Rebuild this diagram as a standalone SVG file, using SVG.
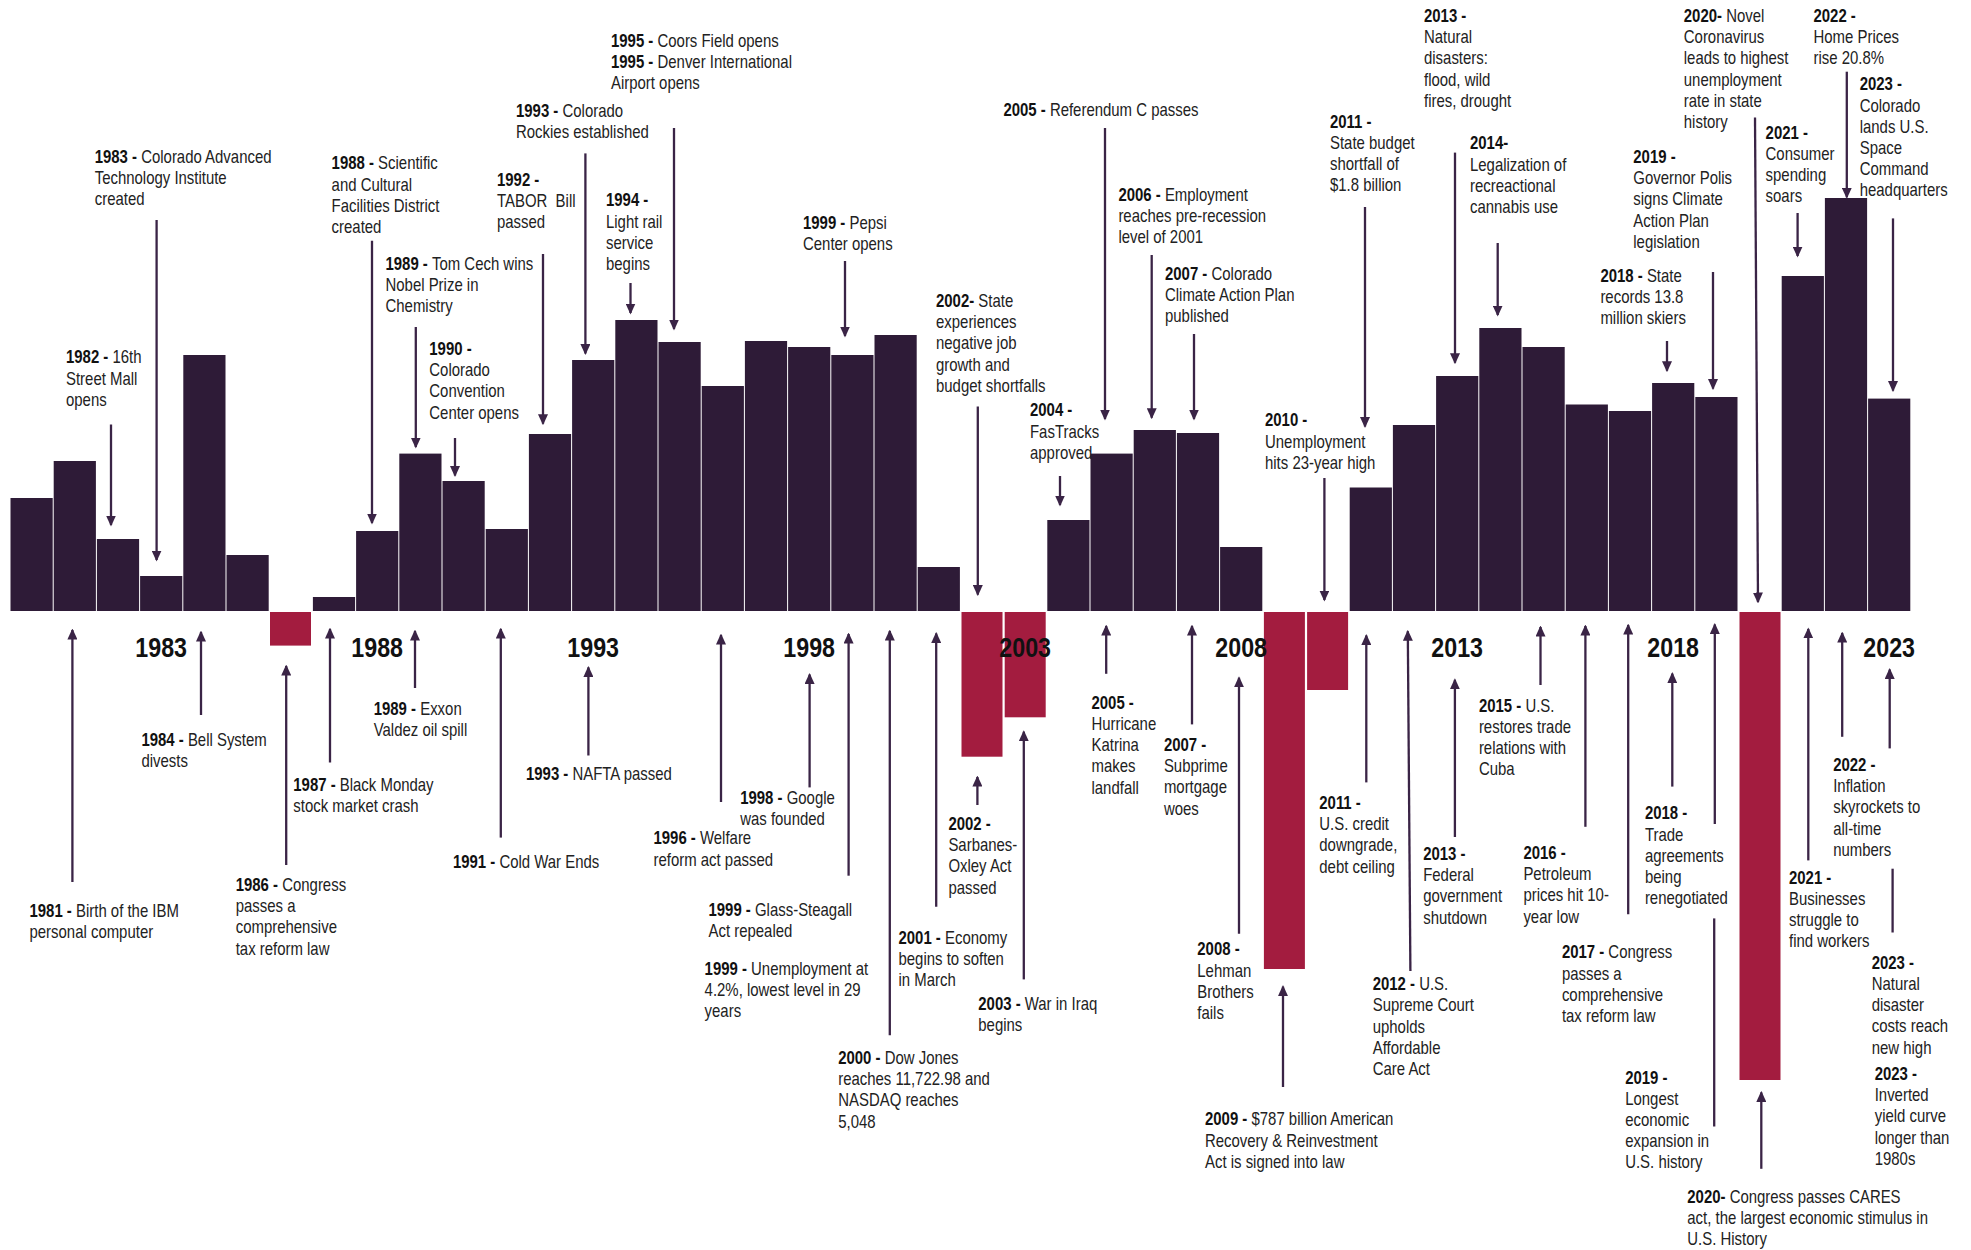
<svg xmlns="http://www.w3.org/2000/svg" width="1971" height="1250" viewBox="0 0 1971 1250">
<style>
.bar{fill:#2e1b37}
.neg{fill:#a31c3f}
.t{font-family:"Liberation Sans",Arial,sans-serif;font-size:18px;fill:#222}
.b{font-weight:bold;fill:#111}
.yr{font-family:"Liberation Sans",Arial,sans-serif;font-size:28px;font-weight:bold;text-anchor:middle;fill:#111}
.arr{stroke:#3a2446;stroke-width:2.3;fill:none;marker-end:url(#ah)}
.seg{stroke:#3a2446;stroke-width:2.3;fill:none}
</style>
<defs>
<marker id="ah" viewBox="0 0 11 10" refX="9.5" refY="5" markerWidth="11" markerHeight="10" markerUnits="userSpaceOnUse" orient="auto">
<path d="M0,0 L11,5 L0,10 z" fill="#3a2446"/>
</marker>
</defs>
<rect width="1971" height="1250" fill="#fff"/>
<g id="bars">
<rect class="bar" x="10.5" y="498" width="42.2" height="113"/>
<rect class="bar" x="53.7" y="461" width="42.2" height="150"/>
<rect class="bar" x="96.9" y="539" width="42.2" height="72"/>
<rect class="bar" x="140.1" y="576" width="42.2" height="35"/>
<rect class="bar" x="183.3" y="355" width="42.2" height="256"/>
<rect class="bar" x="226.5" y="555" width="42.2" height="56"/>
<rect class="neg" x="270" y="612" width="41" height="33.6"/>
<rect class="bar" x="312.9" y="597" width="42.2" height="14"/>
<rect class="bar" x="356.1" y="531" width="42.2" height="80"/>
<rect class="bar" x="399.3" y="453.6" width="42.2" height="157.4"/>
<rect class="bar" x="442.5" y="481" width="42.2" height="130"/>
<rect class="bar" x="485.7" y="529" width="42.2" height="82"/>
<rect class="bar" x="528.9" y="434" width="42.2" height="177"/>
<rect class="bar" x="572.1" y="360" width="42.2" height="251"/>
<rect class="bar" x="615.3" y="320" width="42.2" height="291"/>
<rect class="bar" x="658.5" y="342" width="42.2" height="269"/>
<rect class="bar" x="701.7" y="386" width="42.2" height="225"/>
<rect class="bar" x="744.9" y="341" width="42.2" height="270"/>
<rect class="bar" x="788.1" y="347" width="42.2" height="264"/>
<rect class="bar" x="831.3" y="355" width="42.2" height="256"/>
<rect class="bar" x="874.5" y="335" width="42.2" height="276"/>
<rect class="bar" x="917.7" y="567" width="42.2" height="44"/>
<rect class="neg" x="961.5" y="612" width="41" height="144.7"/>
<rect class="neg" x="1004.7" y="612" width="41" height="105.3"/>
<rect class="bar" x="1047.3" y="520" width="42.2" height="91"/>
<rect class="bar" x="1090.5" y="453.6" width="42.2" height="157.4"/>
<rect class="bar" x="1133.7" y="430" width="42.2" height="181"/>
<rect class="bar" x="1176.9" y="433" width="42.2" height="178"/>
<rect class="bar" x="1220.1" y="547" width="42.2" height="64"/>
<rect class="neg" x="1263.9" y="612" width="41" height="357"/>
<rect class="neg" x="1307.1" y="612" width="41" height="78"/>
<rect class="bar" x="1349.7" y="487.5" width="42.2" height="123.5"/>
<rect class="bar" x="1392.9" y="425" width="42.2" height="186"/>
<rect class="bar" x="1436.1" y="376" width="42.2" height="235"/>
<rect class="bar" x="1479.3" y="328" width="42.2" height="283"/>
<rect class="bar" x="1522.5" y="347" width="42.2" height="264"/>
<rect class="bar" x="1565.7" y="404.5" width="42.2" height="206.5"/>
<rect class="bar" x="1608.9" y="411" width="42.2" height="200"/>
<rect class="bar" x="1652.1" y="383" width="42.2" height="228"/>
<rect class="bar" x="1695.3" y="397" width="42.2" height="214"/>
<rect class="neg" x="1739.5" y="612" width="41" height="468"/>
<rect class="bar" x="1781.7" y="276" width="42.2" height="335"/>
<rect class="bar" x="1824.9" y="198" width="42.2" height="413"/>
<rect class="bar" x="1868.1" y="398.6" width="42.2" height="212.4"/>
</g>
<g id="year-axis">
<text class="yr" transform="matrix(0.83 0 0 1 27.4 0)" x="161.2" y="657.5">1983</text>
<text class="yr" transform="matrix(0.83 0 0 1 64.12 0)" x="377.2" y="657.5">1988</text>
<text class="yr" transform="matrix(0.83 0 0 1 100.84 0)" x="593.2" y="657.5">1993</text>
<text class="yr" transform="matrix(0.83 0 0 1 137.56 0)" x="809.2" y="657.5">1998</text>
<text class="yr" transform="matrix(0.83 0 0 1 174.28 0)" x="1025.2" y="657.5">2003</text>
<text class="yr" transform="matrix(0.83 0 0 1 211 0)" x="1241.2" y="657.5">2008</text>
<text class="yr" transform="matrix(0.83 0 0 1 247.72 0)" x="1457.2" y="657.5">2013</text>
<text class="yr" transform="matrix(0.83 0 0 1 284.44 0)" x="1673.2" y="657.5">2018</text>
<text class="yr" transform="matrix(0.83 0 0 1 321.16 0)" x="1889.2" y="657.5">2023</text>
</g>
<g id="connectors">
<line class="arr" x1="156.6" y1="220" x2="156.6" y2="560"/>
<line class="arr" x1="111" y1="424.5" x2="111" y2="525"/>
<line class="arr" x1="372" y1="240.7" x2="372" y2="523"/>
<line class="arr" x1="415.8" y1="327" x2="415.8" y2="447"/>
<line class="arr" x1="455" y1="438" x2="455" y2="475.5"/>
<line class="arr" x1="543" y1="254" x2="543" y2="423.7"/>
<line class="arr" x1="585.4" y1="153.4" x2="585.4" y2="353.5"/>
<line class="arr" x1="630.5" y1="283" x2="630.5" y2="313"/>
<line class="arr" x1="674" y1="128" x2="674" y2="329"/>
<line class="arr" x1="845" y1="261" x2="845" y2="336"/>
<line class="arr" x1="977.8" y1="406.5" x2="977.8" y2="594.6"/>
<line class="arr" x1="1105" y1="128" x2="1105" y2="419"/>
<line class="arr" x1="1151.7" y1="255" x2="1151.7" y2="417.7"/>
<line class="arr" x1="1194" y1="334" x2="1194" y2="419"/>
<line class="arr" x1="1060" y1="476" x2="1060" y2="505"/>
<line class="arr" x1="1324.4" y1="478" x2="1324.4" y2="600"/>
<line class="arr" x1="1365" y1="207" x2="1365" y2="426.5"/>
<line class="arr" x1="1455" y1="152.6" x2="1455" y2="362.7"/>
<line class="arr" x1="1497.7" y1="243" x2="1497.7" y2="315"/>
<line class="arr" x1="1713" y1="272" x2="1713" y2="388.6"/>
<line class="arr" x1="1667" y1="341" x2="1667" y2="370.7"/>
<line class="arr" x1="1755" y1="117.6" x2="1758" y2="602"/>
<line class="arr" x1="1797.6" y1="213" x2="1797.6" y2="256"/>
<line class="arr" x1="1846.8" y1="71.7" x2="1846.8" y2="197.3"/>
<line class="arr" x1="1893" y1="218.4" x2="1893" y2="390.6"/>
<line class="arr" x1="72.4" y1="882" x2="72.4" y2="630"/>
<line class="arr" x1="201" y1="715" x2="201" y2="632"/>
<line class="arr" x1="286.2" y1="865" x2="286.2" y2="666"/>
<line class="arr" x1="330" y1="762.5" x2="330" y2="629"/>
<line class="arr" x1="415" y1="688" x2="415" y2="631"/>
<line class="arr" x1="500.8" y1="837.6" x2="500.8" y2="629"/>
<line class="arr" x1="588.4" y1="755.5" x2="588.4" y2="667.4"/>
<line class="arr" x1="721" y1="802" x2="721" y2="635"/>
<line class="arr" x1="809.6" y1="787.4" x2="809.6" y2="674.5"/>
<line class="arr" x1="848.6" y1="875.7" x2="848.6" y2="634"/>
<line class="arr" x1="889.8" y1="1035.3" x2="889.8" y2="631"/>
<line class="arr" x1="936.2" y1="906.8" x2="936.2" y2="633.4"/>
<line class="arr" x1="977.4" y1="805" x2="977.4" y2="777"/>
<line class="arr" x1="1023.8" y1="979.4" x2="1023.8" y2="731.7"/>
<line class="arr" x1="1106.2" y1="673.8" x2="1106.2" y2="626"/>
<line class="arr" x1="1192" y1="724.4" x2="1192" y2="626"/>
<line class="arr" x1="1239" y1="933.7" x2="1239" y2="677.8"/>
<line class="arr" x1="1283" y1="1087" x2="1283" y2="986.6"/>
<line class="arr" x1="1366.3" y1="782.4" x2="1366.3" y2="635.5"/>
<line class="arr" x1="1410.4" y1="971" x2="1407.8" y2="631.3"/>
<line class="arr" x1="1454.9" y1="837" x2="1454.9" y2="679.8"/>
<line class="arr" x1="1540.5" y1="685" x2="1540.5" y2="627"/>
<line class="arr" x1="1585.4" y1="826.8" x2="1585.4" y2="626"/>
<line class="arr" x1="1628.2" y1="914.3" x2="1628.2" y2="625"/>
<line class="arr" x1="1672.3" y1="786.6" x2="1672.3" y2="673.6"/>
<line class="seg" x1="1714.2" y1="1126.5" x2="1714.2" y2="918.4"/>
<line class="arr" x1="1714.8" y1="824" x2="1714.8" y2="624.5"/>
<line class="arr" x1="1761.3" y1="1168.8" x2="1761.3" y2="1092.4"/>
<line class="arr" x1="1808.3" y1="860.4" x2="1808.3" y2="628.9"/>
<line class="arr" x1="1842.2" y1="736.8" x2="1842.2" y2="633"/>
<line class="seg" x1="1892.6" y1="932.5" x2="1892.6" y2="868.7"/>
<line class="arr" x1="1889.7" y1="748.4" x2="1889.7" y2="669.5"/>
</g>
<g id="ev-1983-cati"><text class="t" transform="matrix(0.83 0 0 1 16.1 0)" x="94.7" y="162.6"><tspan class="b">1983 - </tspan>Colorado Advanced<tspan x="94.7" dy="21.2">Technology Institute</tspan><tspan x="94.7" dy="21.2">created</tspan></text></g>
<g id="ev-1982-mall"><text class="t" transform="matrix(0.83 0 0 1 11.22 0)" x="66" y="363.5"><tspan class="b">1982 - </tspan>16th<tspan x="66" dy="21.2">Street Mall</tspan><tspan x="66" dy="21.2">opens</tspan></text></g>
<g id="ev-1988-scfd"><text class="t" transform="matrix(0.83 0 0 1 56.37 0)" x="331.6" y="169.4"><tspan class="b">1988 - </tspan>Scientific<tspan x="331.6" dy="21.2">and Cultural</tspan><tspan x="331.6" dy="21.2">Facilities District</tspan><tspan x="331.6" dy="21.2">created</tspan></text></g>
<g id="ev-1989-cech"><text class="t" transform="matrix(0.83 0 0 1 65.54 0)" x="385.5" y="270"><tspan class="b">1989 - </tspan>Tom Cech wins<tspan x="385.5" dy="21.2">Nobel Prize in</tspan><tspan x="385.5" dy="21.2">Chemistry</tspan></text></g>
<g id="ev-1990-ccc"><text class="t" transform="matrix(0.83 0 0 1 72.98 0)" x="429.3" y="355"><tspan class="b">1990 -</tspan><tspan x="429.3" dy="21.2">Colorado</tspan><tspan x="429.3" dy="21.2">Convention</tspan><tspan x="429.3" dy="21.2">Center opens</tspan></text></g>
<g id="ev-1992-tabor"><text class="t" transform="matrix(0.83 0 0 1 84.49 0)" x="497" y="186"><tspan class="b">1992 -</tspan><tspan x="497" dy="21.2">TABOR&#160; Bill</tspan><tspan x="497" dy="21.2">passed</tspan></text></g>
<g id="ev-1993-rockies"><text class="t" transform="matrix(0.83 0 0 1 87.72 0)" x="516" y="116.8"><tspan class="b">1993 - </tspan>Colorado<tspan x="516" dy="21.2">Rockies established</tspan></text></g>
<g id="ev-1994-rail"><text class="t" transform="matrix(0.83 0 0 1 103.02 0)" x="606" y="206.5"><tspan class="b">1994 -</tspan><tspan x="606" dy="21.2">Light rail</tspan><tspan x="606" dy="21.2">service</tspan><tspan x="606" dy="21.2">begins</tspan></text></g>
<g id="ev-1995-coors"><text class="t" transform="matrix(0.83 0 0 1 103.87 0)" x="611" y="47"><tspan class="b">1995 - </tspan>Coors Field opens<tspan x="611" dy="21.2" class="b">1995 - </tspan><tspan>Denver International</tspan><tspan x="611" dy="21.2">Airport opens</tspan></text></g>
<g id="ev-1999-pepsi"><text class="t" transform="matrix(0.83 0 0 1 136.51 0)" x="803" y="229"><tspan class="b">1999 - </tspan>Pepsi<tspan x="803" dy="21.2">Center opens</tspan></text></g>
<g id="ev-2002-state"><text class="t" transform="matrix(0.83 0 0 1 159.12 0)" x="936" y="307"><tspan class="b">2002- </tspan>State<tspan x="936" dy="21.2">experiences</tspan><tspan x="936" dy="21.2">negative job</tspan><tspan x="936" dy="21.2">growth and</tspan><tspan x="936" dy="21.2">budget shortfalls</tspan></text></g>
<g id="ev-2005-refc"><text class="t" transform="matrix(0.83 0 0 1 170.58 0)" x="1003.4" y="115.6"><tspan class="b">2005 - </tspan>Referendum C passes</text></g>
<g id="ev-2006-employ"><text class="t" transform="matrix(0.83 0 0 1 190.13 0)" x="1118.4" y="201"><tspan class="b">2006 - </tspan>Employment<tspan x="1118.4" dy="21.2">reaches pre-recession</tspan><tspan x="1118.4" dy="21.2">level of 2001</tspan></text></g>
<g id="ev-2007-climate"><text class="t" transform="matrix(0.83 0 0 1 198.05 0)" x="1165" y="279.8"><tspan class="b">2007 - </tspan>Colorado<tspan x="1165" dy="21.2">Climate Action Plan</tspan><tspan x="1165" dy="21.2">published</tspan></text></g>
<g id="ev-2004-fastracks"><text class="t" transform="matrix(0.83 0 0 1 175.1 0)" x="1030" y="416.5"><tspan class="b">2004 -</tspan><tspan x="1030" dy="21.2">FasTracks</tspan><tspan x="1030" dy="21.2">approved</tspan></text></g>
<g id="ev-2010-unemp"><text class="t" transform="matrix(0.83 0 0 1 215.05 0)" x="1265" y="426.5"><tspan class="b">2010 -</tspan><tspan x="1265" dy="21.2">Unemployment</tspan><tspan x="1265" dy="21.2">hits 23-year high</tspan></text></g>
<g id="ev-2011-budget"><text class="t" transform="matrix(0.83 0 0 1 226.1 0)" x="1330" y="127.6"><tspan class="b">2011 -</tspan><tspan x="1330" dy="21.2">State budget</tspan><tspan x="1330" dy="21.2">shortfall of</tspan><tspan x="1330" dy="21.2">$1.8 billion</tspan></text></g>
<g id="ev-2013-disasters"><text class="t" transform="matrix(0.83 0 0 1 242.08 0)" x="1424" y="22"><tspan class="b">2013 -</tspan><tspan x="1424" dy="21.2">Natural</tspan><tspan x="1424" dy="21.2">disasters:</tspan><tspan x="1424" dy="21.2">flood, wild</tspan><tspan x="1424" dy="21.2">fires, drought</tspan></text></g>
<g id="ev-2014-cannabis"><text class="t" transform="matrix(0.83 0 0 1 249.9 0)" x="1470" y="149.5"><tspan class="b">2014-</tspan><tspan x="1470" dy="21.2">Legalization of</tspan><tspan x="1470" dy="21.2">recreactional</tspan><tspan x="1470" dy="21.2">cannabis use</tspan></text></g>
<g id="ev-2019-polis"><text class="t" transform="matrix(0.83 0 0 1 277.66 0)" x="1633.3" y="163"><tspan class="b">2019 -</tspan><tspan x="1633.3" dy="21.2">Governor Polis</tspan><tspan x="1633.3" dy="21.2">signs Climate</tspan><tspan x="1633.3" dy="21.2">Action Plan</tspan><tspan x="1633.3" dy="21.2">legislation</tspan></text></g>
<g id="ev-2018-skiers"><text class="t" transform="matrix(0.83 0 0 1 272.07 0)" x="1600.4" y="281.8"><tspan class="b">2018 - </tspan>State<tspan x="1600.4" dy="21.2">records 13.8</tspan><tspan x="1600.4" dy="21.2">million skiers</tspan></text></g>
<g id="ev-2020-covid"><text class="t" transform="matrix(0.83 0 0 1 286.25 0)" x="1683.8" y="22"><tspan class="b">2020- </tspan>Novel<tspan x="1683.8" dy="21.2">Coronavirus</tspan><tspan x="1683.8" dy="21.2">leads to highest</tspan><tspan x="1683.8" dy="21.2">unemployment</tspan><tspan x="1683.8" dy="21.2">rate in state</tspan><tspan x="1683.8" dy="21.2">history</tspan></text></g>
<g id="ev-2021-spending"><text class="t" transform="matrix(0.83 0 0 1 300.15 0)" x="1765.6" y="138.7"><tspan class="b">2021 -</tspan><tspan x="1765.6" dy="21.2">Consumer</tspan><tspan x="1765.6" dy="21.2">spending</tspan><tspan x="1765.6" dy="21.2">soars</tspan></text></g>
<g id="ev-2022-home"><text class="t" transform="matrix(0.83 0 0 1 308.3 0)" x="1813.5" y="22"><tspan class="b">2022 -</tspan><tspan x="1813.5" dy="21.2">Home Prices</tspan><tspan x="1813.5" dy="21.2">rise 20.8%</tspan></text></g>
<g id="ev-2023-space"><text class="t" transform="matrix(0.83 0 0 1 316.15 0)" x="1859.7" y="90.5"><tspan class="b">2023 -</tspan><tspan x="1859.7" dy="21.2">Colorado</tspan><tspan x="1859.7" dy="21.2">lands U.S.</tspan><tspan x="1859.7" dy="21.2">Space</tspan><tspan x="1859.7" dy="21.2">Command</tspan><tspan x="1859.7" dy="21.2">headquarters</tspan></text></g>
<g id="ev-1981-ibm"><text class="t" transform="matrix(0.83 0 0 1 5.02 0)" x="29.5" y="917"><tspan class="b">1981 - </tspan>Birth of the IBM<tspan x="29.5" dy="21.2">personal computer</tspan></text></g>
<g id="ev-1984-bell"><text class="t" transform="matrix(0.83 0 0 1 24.04 0)" x="141.4" y="745.7"><tspan class="b">1984 - </tspan>Bell System<tspan x="141.4" dy="21.2">divests</tspan></text></g>
<g id="ev-1986-tax"><text class="t" transform="matrix(0.83 0 0 1 40.07 0)" x="235.7" y="891"><tspan class="b">1986 - </tspan>Congress<tspan x="235.7" dy="21.2">passes a</tspan><tspan x="235.7" dy="21.2">comprehensive</tspan><tspan x="235.7" dy="21.2">tax reform law</tspan></text></g>
<g id="ev-1987-monday"><text class="t" transform="matrix(0.83 0 0 1 49.86 0)" x="293.3" y="791"><tspan class="b">1987 - </tspan>Black Monday<tspan x="293.3" dy="21.2">stock market crash</tspan></text></g>
<g id="ev-1989-exxon"><text class="t" transform="matrix(0.83 0 0 1 63.53 0)" x="373.7" y="714.6"><tspan class="b">1989 - </tspan>Exxon<tspan x="373.7" dy="21.2">Valdez oil spill</tspan></text></g>
<g id="ev-1991-coldwar"><text class="t" transform="matrix(0.83 0 0 1 76.99 0)" x="452.9" y="868.4"><tspan class="b">1991 - </tspan>Cold War Ends</text></g>
<g id="ev-1993-nafta"><text class="t" transform="matrix(0.83 0 0 1 89.42 0)" x="526" y="780"><tspan class="b">1993 - </tspan>NAFTA passed</text></g>
<g id="ev-1996-welfare"><text class="t" transform="matrix(0.83 0 0 1 111.1 0)" x="653.5" y="844.4"><tspan class="b">1996 - </tspan>Welfare<tspan x="653.5" dy="21.2">reform act passed</tspan></text></g>
<g id="ev-1998-google"><text class="t" transform="matrix(0.83 0 0 1 125.83 0)" x="740.2" y="803.8"><tspan class="b">1998 - </tspan>Google<tspan x="740.2" dy="21.2">was founded</tspan></text></g>
<g id="ev-1999-glass"><text class="t" transform="matrix(0.83 0 0 1 120.45 0)" x="708.5" y="916"><tspan class="b">1999 - </tspan>Glass-Steagall<tspan x="708.5" dy="21.2">Act repealed</tspan></text></g>
<g id="ev-1999-unemp"><text class="t" transform="matrix(0.83 0 0 1 119.78 0)" x="704.6" y="975"><tspan class="b">1999 - </tspan>Unemployment at<tspan x="704.6" dy="21.2">4.2%, lowest level in 29</tspan><tspan x="704.6" dy="21.2">years</tspan></text></g>
<g id="ev-2000-dow"><text class="t" transform="matrix(0.83 0 0 1 142.49 0)" x="838.2" y="1064"><tspan class="b">2000 - </tspan>Dow Jones<tspan x="838.2" dy="21.2">reaches 11,722.98 and</tspan><tspan x="838.2" dy="21.2">NASDAQ reaches</tspan><tspan x="838.2" dy="21.2">5,048</tspan></text></g>
<g id="ev-2001-economy"><text class="t" transform="matrix(0.83 0 0 1 152.75 0)" x="898.5" y="944"><tspan class="b">2001 - </tspan>Economy<tspan x="898.5" dy="21.2">begins to soften</tspan><tspan x="898.5" dy="21.2">in March</tspan></text></g>
<g id="ev-2002-sox"><text class="t" transform="matrix(0.83 0 0 1 161.23 0)" x="948.4" y="830"><tspan class="b">2002 -</tspan><tspan x="948.4" dy="21.2">Sarbanes-</tspan><tspan x="948.4" dy="21.2">Oxley Act</tspan><tspan x="948.4" dy="21.2">passed</tspan></text></g>
<g id="ev-2003-iraq"><text class="t" transform="matrix(0.83 0 0 1 166.31 0)" x="978.3" y="1010"><tspan class="b">2003 - </tspan>War in Iraq<tspan x="978.3" dy="21.2">begins</tspan></text></g>
<g id="ev-2005-katrina"><text class="t" transform="matrix(0.83 0 0 1 185.56 0)" x="1091.5" y="708.8"><tspan class="b">2005 -</tspan><tspan x="1091.5" dy="21.2">Hurricane</tspan><tspan x="1091.5" dy="21.2">Katrina</tspan><tspan x="1091.5" dy="21.2">makes</tspan><tspan x="1091.5" dy="21.2">landfall</tspan></text></g>
<g id="ev-2007-subprime"><text class="t" transform="matrix(0.83 0 0 1 197.86 0)" x="1163.9" y="751"><tspan class="b">2007 -</tspan><tspan x="1163.9" dy="21.2">Subprime</tspan><tspan x="1163.9" dy="21.2">mortgage</tspan><tspan x="1163.9" dy="21.2">woes</tspan></text></g>
<g id="ev-2008-lehman"><text class="t" transform="matrix(0.83 0 0 1 203.54 0)" x="1197.3" y="955.5"><tspan class="b">2008 -</tspan><tspan x="1197.3" dy="21.2">Lehman</tspan><tspan x="1197.3" dy="21.2">Brothers</tspan><tspan x="1197.3" dy="21.2">fails</tspan></text></g>
<g id="ev-2009-arra"><text class="t" transform="matrix(0.83 0 0 1 204.85 0)" x="1205" y="1125.5"><tspan class="b">2009 - </tspan>$787 billion American<tspan x="1205" dy="21.2">Recovery &amp; Reinvestment</tspan><tspan x="1205" dy="21.2">Act is signed into law</tspan></text></g>
<g id="ev-2011-credit"><text class="t" transform="matrix(0.83 0 0 1 224.28 0)" x="1319.3" y="809"><tspan class="b">2011 -</tspan><tspan x="1319.3" dy="21.2">U.S. credit</tspan><tspan x="1319.3" dy="21.2">downgrade,</tspan><tspan x="1319.3" dy="21.2">debt ceiling</tspan></text></g>
<g id="ev-2012-aca"><text class="t" transform="matrix(0.83 0 0 1 233.36 0)" x="1372.7" y="990.3"><tspan class="b">2012 - </tspan>U.S.<tspan x="1372.7" dy="21.2">Supreme Court</tspan><tspan x="1372.7" dy="21.2">upholds</tspan><tspan x="1372.7" dy="21.2">Affordable</tspan><tspan x="1372.7" dy="21.2">Care Act</tspan></text></g>
<g id="ev-2013-shutdown"><text class="t" transform="matrix(0.83 0 0 1 241.94 0)" x="1423.2" y="860"><tspan class="b">2013 -</tspan><tspan x="1423.2" dy="21.2">Federal</tspan><tspan x="1423.2" dy="21.2">government</tspan><tspan x="1423.2" dy="21.2">shutdown</tspan></text></g>
<g id="ev-2015-cuba"><text class="t" transform="matrix(0.83 0 0 1 251.41 0)" x="1478.9" y="711.7"><tspan class="b">2015 - </tspan>U.S.<tspan x="1478.9" dy="21.2">restores trade</tspan><tspan x="1478.9" dy="21.2">relations with</tspan><tspan x="1478.9" dy="21.2">Cuba</tspan></text></g>
<g id="ev-2016-oil"><text class="t" transform="matrix(0.83 0 0 1 258.98 0)" x="1523.4" y="859"><tspan class="b">2016 -</tspan><tspan x="1523.4" dy="21.2">Petroleum</tspan><tspan x="1523.4" dy="21.2">prices hit 10-</tspan><tspan x="1523.4" dy="21.2">year low</tspan></text></g>
<g id="ev-2017-tax"><text class="t" transform="matrix(0.83 0 0 1 265.52 0)" x="1561.9" y="958.4"><tspan class="b">2017 - </tspan>Congress<tspan x="1561.9" dy="21.2">passes a</tspan><tspan x="1561.9" dy="21.2">comprehensive</tspan><tspan x="1561.9" dy="21.2">tax reform law</tspan></text></g>
<g id="ev-2018-trade"><text class="t" transform="matrix(0.83 0 0 1 279.63 0)" x="1644.9" y="819.5"><tspan class="b">2018 -</tspan><tspan x="1644.9" dy="21.2">Trade</tspan><tspan x="1644.9" dy="21.2">agreements</tspan><tspan x="1644.9" dy="21.2">being</tspan><tspan x="1644.9" dy="21.2">renegotiated</tspan></text></g>
<g id="ev-2019-expansion"><text class="t" transform="matrix(0.83 0 0 1 276.28 0)" x="1625.2" y="1083.6"><tspan class="b">2019 -</tspan><tspan x="1625.2" dy="21.2">Longest</tspan><tspan x="1625.2" dy="21.2">economic</tspan><tspan x="1625.2" dy="21.2">expansion in</tspan><tspan x="1625.2" dy="21.2">U.S. history</tspan></text></g>
<g id="ev-2020-cares"><text class="t" transform="matrix(0.83 0 0 1 286.84 0)" x="1687.3" y="1203"><tspan class="b">2020- </tspan>Congress passes CARES<tspan x="1687.3" dy="21.2">act, the largest economic stimulus in</tspan><tspan x="1687.3" dy="21.2">U.S. History</tspan></text></g>
<g id="ev-2021-workers"><text class="t" transform="matrix(0.83 0 0 1 304.13 0)" x="1789" y="883.8"><tspan class="b">2021 -</tspan><tspan x="1789" dy="21.2">Businesses</tspan><tspan x="1789" dy="21.2">struggle to</tspan><tspan x="1789" dy="21.2">find workers</tspan></text></g>
<g id="ev-2022-inflation"><text class="t" transform="matrix(0.83 0 0 1 311.64 0)" x="1833.2" y="771"><tspan class="b">2022 -</tspan><tspan x="1833.2" dy="21.2">Inflation</tspan><tspan x="1833.2" dy="21.2">skyrockets to</tspan><tspan x="1833.2" dy="21.2">all-time</tspan><tspan x="1833.2" dy="21.2">numbers</tspan></text></g>
<g id="ev-2023-disaster"><text class="t" transform="matrix(0.83 0 0 1 318.19 0)" x="1871.7" y="968.8"><tspan class="b">2023 -</tspan><tspan x="1871.7" dy="21.2">Natural</tspan><tspan x="1871.7" dy="21.2">disaster</tspan><tspan x="1871.7" dy="21.2">costs reach</tspan><tspan x="1871.7" dy="21.2">new high</tspan></text></g>
<g id="ev-2023-yield"><text class="t" transform="matrix(0.83 0 0 1 318.7 0)" x="1874.7" y="1080"><tspan class="b">2023 -</tspan><tspan x="1874.7" dy="21.2">Inverted</tspan><tspan x="1874.7" dy="21.2">yield curve</tspan><tspan x="1874.7" dy="21.2">longer than</tspan><tspan x="1874.7" dy="21.2">1980s</tspan></text></g>
</svg>
